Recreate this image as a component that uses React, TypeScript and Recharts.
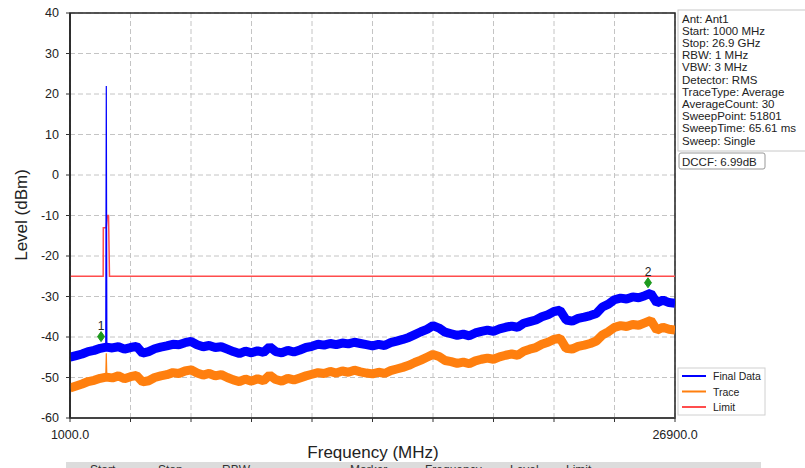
import React from 'react';
import {
  ComposedChart, Line, Scatter, XAxis, YAxis, CartesianGrid, ReferenceArea,
} from 'recharts';

// Sweep grid: 101 points from 1000 MHz to 26900 MHz
const START_MHZ = 1000;
const STOP_MHZ = 26900;
const STEP_MHZ = 259;

// Final Data (blue) levels, dBm
const finalDataLevels = [
  -45.0, -44.6, -44.2, -43.6, -43.3, -42.8, -42.5, -42.7, -42.4, -43.0,
  -42.6, -42.3, -44.0, -43.6, -42.9, -42.5, -42.2, -41.8, -41.9, -41.4,
  -41.1, -41.9, -42.4, -42.1, -42.6, -42.4, -43.0, -43.6, -44.1, -43.5,
  -43.9, -43.4, -43.8, -42.4, -43.6, -43.9, -43.3, -43.7, -43.2, -42.6,
  -42.3, -41.8, -42.0, -41.6, -41.9, -41.5, -41.7, -41.3, -41.6, -41.9,
  -42.2, -41.8, -42.1, -41.4, -41.0, -40.6, -40.1, -39.4, -38.7, -38.1,
  -37.2, -37.8, -38.8, -39.2, -39.6, -39.3, -39.7, -39.0, -38.6, -38.3,
  -38.6, -38.0, -37.6, -37.3, -37.6, -36.6, -36.2, -35.8, -35.0, -34.5,
  -33.7, -33.4, -35.8, -36.1, -35.4, -35.1, -34.7, -34.2, -32.6, -31.9,
  -30.8, -30.4, -30.6, -30.1, -30.3, -29.8, -29.2, -31.6, -30.9, -31.5,
  -31.7,
];

// Trace (orange) levels, dBm
const traceLevels = [
  -52.6, -52.1, -51.6, -51.0, -50.7, -50.2, -49.9, -50.1, -49.6, -50.3,
  -49.8, -49.5, -51.1, -50.8, -50.0, -49.6, -49.3, -48.8, -49.0, -48.4,
  -48.1, -48.9, -49.4, -49.0, -49.6, -49.3, -50.0, -50.6, -51.0, -50.4,
  -50.9, -50.3, -50.8, -49.4, -50.5, -50.9, -50.2, -50.6, -50.1, -49.6,
  -49.2, -48.8, -49.0, -48.5, -48.9, -48.4, -48.7, -48.2, -48.6, -48.9,
  -49.1, -48.7, -49.0, -48.3, -47.9, -47.5, -47.0, -46.3, -45.7, -45.0,
  -44.3, -44.8, -45.8, -46.1, -46.5, -46.2, -46.6, -45.9, -45.5, -45.2,
  -45.5, -44.9, -44.5, -44.2, -44.5, -43.5, -43.0, -42.6, -41.8, -41.3,
  -40.6, -40.3, -42.8, -43.0, -42.3, -42.0, -41.6, -41.0, -39.5, -38.7,
  -37.6, -37.2, -37.4, -36.9, -37.1, -36.5, -35.9, -38.3, -37.6, -38.1,
  -38.3,
];

// Carrier spike in both traces
const spikeFreqs = [2530, 2554, 2578];
const finalSpikeLevels = [-42.5, 22, -42.5];
const traceSpikeLevels = [-50.0, -44.0, -50.0];

// Limit line
const limitFreqs = [1000, 2420, 2426, 2550, 2597, 2650, 2690, 26900];
const limitLevels = [-25, -25, -13, -13, -10, -10, -25, -25];

// Markers
const markerNames = ['1', '2'];
const markerFreqs = [2330, 25744];
const markerLevels = [-39.9, -26.6];

const xTicks = [1000, 3590, 6180, 8770, 11360, 13950, 16540, 19130, 21720, 24310, 26900];
const yTicks = [-60, -50, -40, -30, -20, -10, 0, 10, 20, 30, 40];

const infoLines = [
  'Ant: Ant1',
  'Start: 1000 MHz',
  'Stop: 26.9 GHz',
  'RBW: 1 MHz',
  'VBW: 3 MHz',
  'Detector: RMS',
  'TraceType: Average',
  'AverageCount: 30',
  'SweepPoint: 51801',
  'SweepTime: 65.61 ms',
  'Sweep: Single',
];
const dccfText = 'DCCF: 6.99dB';

const legendItems = [
  { name: 'Final Data', color: '#0000ff' },
  { name: 'Trace', color: '#ff7f0e' },
  { name: 'Limit', color: '#ff4d4d' },
];

const tableHeaders = [
  { t: 'Start', x: 90 },
  { t: 'Stop', x: 158 },
  { t: 'RBW', x: 222 },
  { t: 'Marker', x: 350 },
  { t: 'Frequency', x: 425 },
  { t: 'Level', x: 510 },
  { t: 'Limit', x: 566 },
];

const finalData = finalDataLevels.map((v, i) => ({ f: START_MHZ + STEP_MHZ * i, v }));
const traceData = traceLevels.map((v, i) => ({ f: START_MHZ + STEP_MHZ * i, v }));
const finalSpike = spikeFreqs.map((f, i) => ({ f, v: finalSpikeLevels[i] }));
const traceSpike = spikeFreqs.map((f, i) => ({ f, v: traceSpikeLevels[i] }));
const limitData = limitFreqs.map((f, i) => ({ f, v: limitLevels[i] }));
const markerData = markerFreqs.map((f, i) => ({ f, v: markerLevels[i], name: markerNames[i] }));

const FONT = '"Liberation Sans", Arial, sans-serif';

const MarkerShape = (props: any) => {
  const { cx, cy, payload } = props;
  if (cx == null || cy == null) return null;
  return (
    <g>
      <polygon
        points={`${cx},${cy - 5} ${cx + 3.5},${cy} ${cx},${cy + 5} ${cx - 3.5},${cy}`}
        fill="#1e9a1e"
        stroke="#1e9a1e"
      />
      <text x={cx} y={cy - 7} textAnchor="middle" fontSize={12} fontFamily={FONT} fill="#222">
        {payload.name}
      </text>
    </g>
  );
};

export default function App() {
  return (
    <div style={{ position: 'absolute', left: 0, top: 0, width: 805, height: 468, background: '#fff', overflow: 'hidden' }}>
      <ComposedChart
        width={805}
        height={468}
        margin={{ top: 13, right: 130, bottom: 20, left: 10 }}
      >
        <CartesianGrid stroke="#c4c4c4" strokeDasharray="5 3" />
        <XAxis
          dataKey="f"
          type="number"
          domain={[START_MHZ, STOP_MHZ]}
          ticks={xTicks}
          tickFormatter={(v: number) => (v === START_MHZ || v === STOP_MHZ ? v.toFixed(1) : '')}
          height={30}
          tickSize={4}
          tickMargin={8}
          axisLine={{ stroke: '#444', strokeWidth: 2 }}
          tickLine={{ stroke: '#333' }}
          tick={{ fill: '#222', fontSize: 12.5, fontFamily: FONT }}
          interval={0}
          allowDataOverflow
        />
        <YAxis
          type="number"
          domain={[-60, 40]}
          ticks={yTicks}
          width={60}
          tickSize={4}
          tickMargin={7}
          axisLine={{ stroke: '#222', strokeWidth: 1.5 }}
          tickLine={{ stroke: '#333' }}
          tick={{ fill: '#222', fontSize: 12.5, fontFamily: FONT }}
          interval={0}
          allowDataOverflow
        />
        <ReferenceArea x1={START_MHZ} x2={STOP_MHZ} y1={-60} y2={40} fill="none" stroke="#222" strokeWidth={1.5} ifOverflow="visible" />
        <Line data={limitData} dataKey="v" name="Limit" stroke="#ff4d4d" strokeWidth={1.5} dot={false} isAnimationActive={false} />
        <Line data={traceData} dataKey="v" name="Trace" stroke="#ff7f0e" strokeWidth={9} strokeLinejoin="bevel" dot={false} isAnimationActive={false} />
        <Line data={traceSpike} dataKey="v" name="TraceSpike" stroke="#ff7f0e" strokeWidth={1.2} dot={false} isAnimationActive={false} />
        <Line data={finalData} dataKey="v" name="Final Data" stroke="#0000ff" strokeWidth={9} strokeLinejoin="bevel" dot={false} isAnimationActive={false} />
        <Line data={finalSpike} dataKey="v" name="FinalSpike" stroke="#0000ff" strokeWidth={1.2} dot={false} isAnimationActive={false} />
        <Scatter data={markerData} dataKey="v" shape={<MarkerShape />} isAnimationActive={false} />
      </ComposedChart>

      <svg width={805} height={468} style={{ position: 'absolute', left: 0, top: 0, pointerEvents: 'none' }}>
        <text x={27} y={215} transform="rotate(-90 27 215)" textAnchor="middle" fontSize={17} fontFamily={FONT} fill="#222">
          Level (dBm)
        </text>
        <text x={373} y={458} textAnchor="middle" fontSize={17} fontFamily={FONT} fill="#222">
          Frequency (MHz)
        </text>
        <rect x={678} y={10} width={140} height={141} fill="none" stroke="#c8c8c8" />
        {infoLines.map((t, i) => (
          <text key={t} x={682} y={22.5 + i * 12.2} fontSize={11.5} fontFamily={FONT} fill="#222">
            {t}
          </text>
        ))}
        <rect x={679} y={153} width={86} height={16} rx={2} fill="#fff" stroke="#999" />
        <text x={682} y={165.5} fontSize={11.5} fontFamily={FONT} fill="#222">{dccfText}</text>

        <rect x={678} y={368} width={87} height={47} fill="#fff" stroke="#d0d0d0" />
        {legendItems.map((it, i) => (
          <g key={it.name}>
            <line x1={682} x2={706} y1={376 + i * 15.5} y2={376 + i * 15.5} stroke={it.color} strokeWidth={2} />
            <text x={713} y={380 + i * 15.5} fontSize={10.5} fontFamily={FONT} fill="#222">{it.name}</text>
          </g>
        ))}

        <rect x={66} y={462} width={695} height={10} fill="#dcdcdc" />
        {tableHeaders.map((h) => (
          <text key={h.t} x={h.x} y={474} fontSize={12} fontFamily={FONT} fill="#333">
            {h.t}
          </text>
        ))}
      </svg>
    </div>
  );
}
